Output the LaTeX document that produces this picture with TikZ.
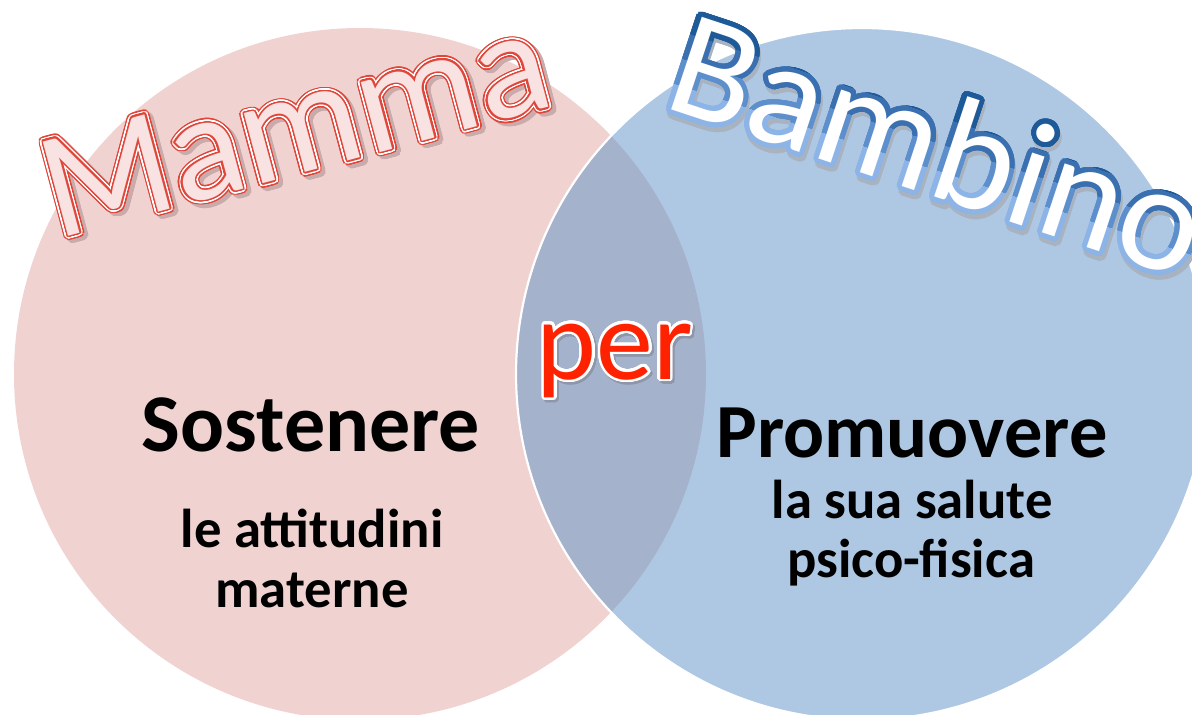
\documentclass[tikz,border=0pt]{standalone}
\usepackage{fontspec}
\usepackage[copies]{contour}
\newfontfamily\calfont{Carlito}
\definecolor{pinkc}{HTML}{F0D2D1}
\definecolor{bluec}{HTML}{AEC8E4}
\definecolor{overc}{HTML}{A5B2CC}
\definecolor{mamred}{HTML}{E0463A}
\definecolor{mamfill}{HTML}{F8E2E2}
\definecolor{mamshadow}{HTML}{C9ABAB}
\definecolor{bbA}{HTML}{8DB4E6}
\definecolor{bbB}{HTML}{5C8FCC}
\definecolor{bbC}{HTML}{3A70B0}
\definecolor{bbD}{HTML}{1F5A98}
\definecolor{bbshadow}{HTML}{A9B3C0}
\definecolor{perred}{HTML}{FF2200}
\definecolor{pershadow}{HTML}{8E96AA}
\contournumber{32}
\newcommand\mamlayers[1]{%
  \rlap{\kern3pt\raisebox{-4pt}{\contourlength{4.5pt}\contour{mamshadow}{\color{mamshadow}#1}}}%
  \rlap{\contourlength{4.5pt}\contour{mamred}{\color{mamred}#1}}%
  \rlap{\contourlength{3pt}\contour{white}{\color{white}#1}}%
  \contourlength{1.4pt}\contour{mamred}{\color{mamfill}#1}}
\newcommand\bbshadowed[2]{%
  \rlap{\kern3pt\raisebox{-4pt}{\contourlength{5pt}\contour{bbshadow}{\color{bbshadow}#2}}}%
  \contourlength{5pt}\contour{#1}{\color{white}#2}}
\newcommand\bblayer[2]{\contourlength{5pt}\contour{#1}{\color{white}#2}}
\newcommand\perlayers[1]{%
  \rlap{\kern2pt\raisebox{-2.5pt}{\contourlength{2.5pt}\contour{pershadow}{\color{pershadow}#1}}}%
  \contourlength{2.5pt}\contour{white}{\color{perred}#1}}
\tikzset{
  wordart/.style={font=\calfont\fontsize{152}{156}\selectfont, anchor=base, inner sep=0pt},
  pertext/.style={font=\calfont\fontsize{114}{118}\selectfont, anchor=base, inner sep=0pt},
  headL/.style={font=\calfont\bfseries\fontsize{82}{86}\selectfont, anchor=base, inner sep=0pt},
  headR/.style={font=\calfont\bfseries\fontsize{76.5}{80}\selectfont, anchor=base, inner sep=0pt},
  subtext/.style={font=\calfont\bfseries\fontsize{54.7}{60}\selectfont, anchor=base, inner sep=0pt},
}
\begin{document}
\begin{tikzpicture}[x=1pt,y=-1pt]
\useasboundingbox (0,0) rectangle (1192,715);
\clip (0,0) rectangle (1192,715);
% circles
\fill[pinkc] (360,374) circle[radius=346];
\fill[bluec] (862,374) circle[radius=346];
\begin{scope}
  \clip (360,374) circle[radius=346];
  \fill[overc] (862,374) circle[radius=346];
\end{scope}
\draw[white, line width=2.2pt] (862,374) circle[radius=346];
% Mamma
\begin{scope}[shift={(307,172)}, rotate=15, transform shape]
  \node[wordart] (mamma) at (0,0) {\mamlayers{Mamma}};
\end{scope}
% Bambino
\begin{scope}[shift={(923,193)}, rotate=-18.3, transform shape]
  \node[wordart] (bambino) at (0,0) {\bbshadowed{bbA}{Bambino}};
  \begin{scope}
    \clip (-400,-26) rectangle (400,-260);
    \node[wordart] (bambinoB) at (0,0) {\bblayer{bbB}{Bambino}};
  \end{scope}
  \begin{scope}
    \clip (-400,-52) rectangle (400,-260);
    \node[wordart] (bambinoC) at (0,0) {\bblayer{bbC}{Bambino}};
  \end{scope}
  \begin{scope}
    \clip (-400,-78) rectangle (400,-260);
    \node[wordart] (bambinoD) at (0,0) {\bblayer{bbD}{Bambino}};
  \end{scope}
\end{scope}
% per
\node[pertext] (per) at (615,379) {\perlayers{per}};
% left texts
\node[headL] (sost) at (311,451) {Sostenere};
\node[subtext] (sost1) at (312,547) {le attitudini};
\node[subtext] (sost2) at (312,607) {materne};
% right texts
\node[headR] (prom) at (912,457) {Promuovere};
\node[subtext] (prom1) at (912,518) {la sua salute};
\node[subtext] (prom2) at (911,577) {psico-fisica};
\end{tikzpicture}
\end{document}
